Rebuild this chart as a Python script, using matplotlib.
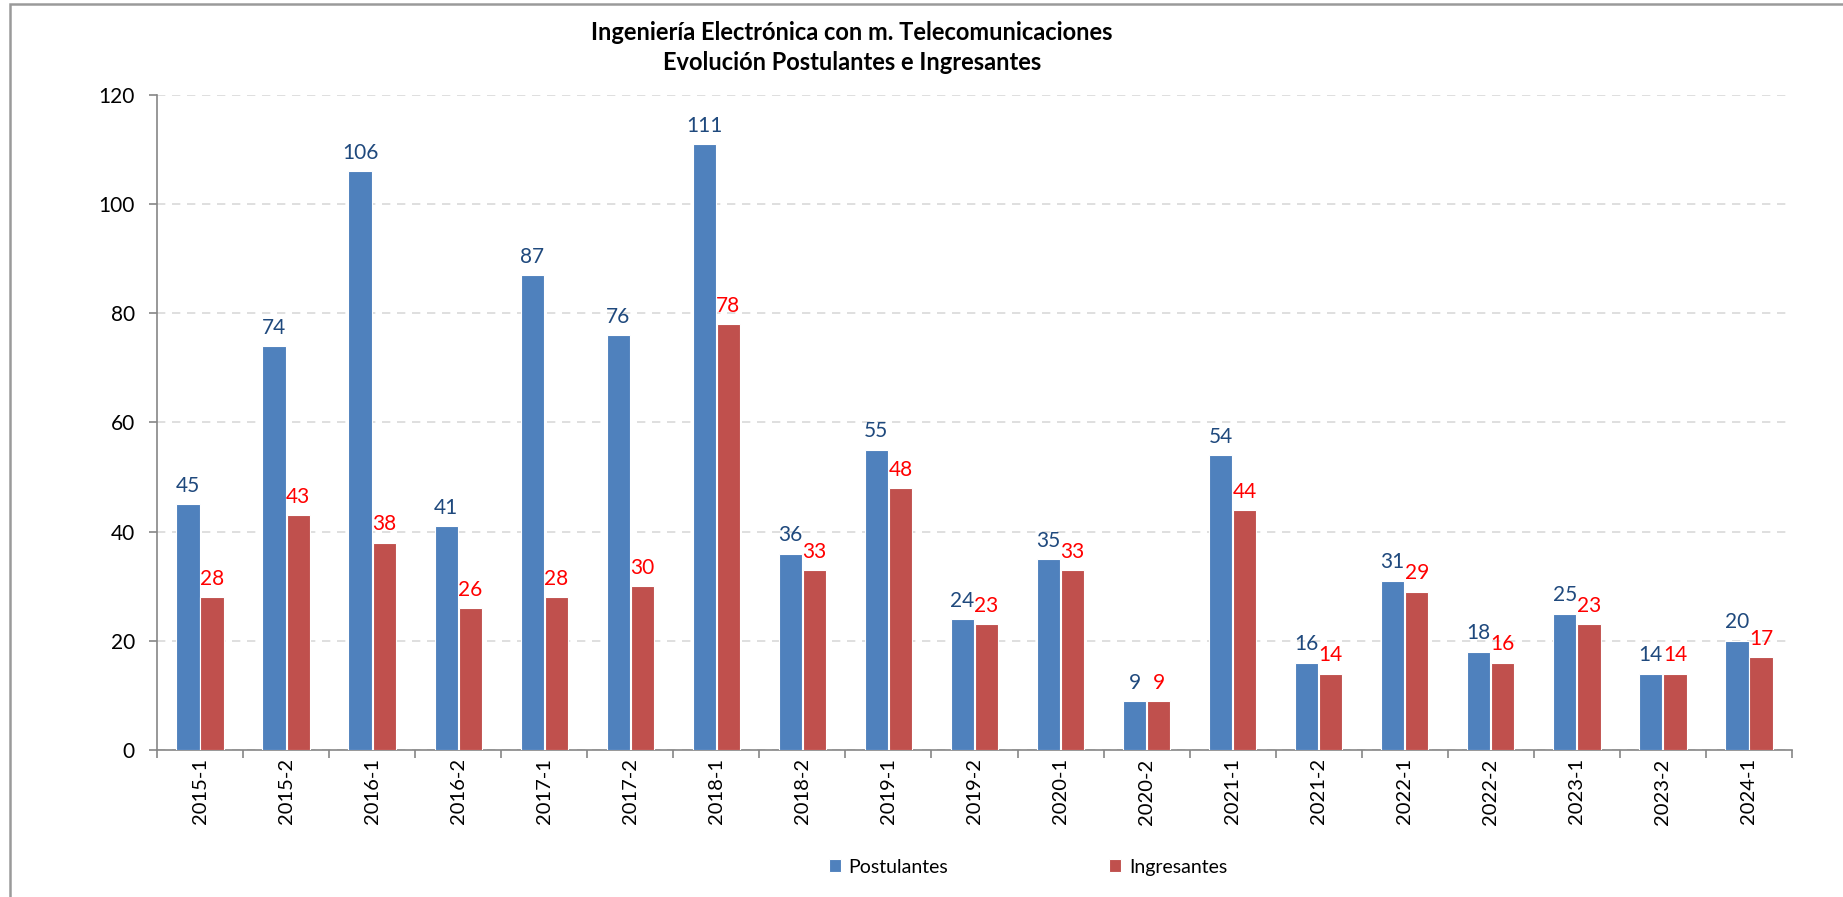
import numpy as np
import matplotlib; matplotlib.use("Agg")
import matplotlib.pyplot as plt
from matplotlib.patches import Rectangle

plt.rcParams["font.family"] = ["Lato", "DejaVu Sans"]

periodos = ["2015-1","2015-2","2016-1","2016-2","2017-1","2017-2","2018-1","2018-2","2019-1","2019-2",
            "2020-1","2020-2","2021-1","2021-2","2022-1","2022-2","2023-1","2023-2","2024-1"]
postulantes = [45,74,106,41,87,76,111,36,55,24,35,9,54,16,31,18,25,14,20]
ingresantes = [28,43,38,26,28,30,78,33,48,23,33,9,44,14,29,16,23,14,17]

C_POST="#4F81BD"; C_ING="#C0504D"; C_AX="#868686"
W,H=1843,897
fig=plt.figure(figsize=(W/100,H/100),dpi=100)
ax=fig.add_axes([157/W,1-750/H,(1792-157)/W,(750-95)/H])

# chart-area frame (only top and left edges show in the image)
fig.patches.append(Rectangle((10/W,-0.2),1.2,1.2-3.5/H,transform=fig.transFigure,
                             fill=False,edgecolor="#9a9a9a",lw=1.8,zorder=0))

xs=np.arange(len(periodos)); bw=0.27; off=0.14
b1=ax.bar(xs-off,postulantes,bw,color=C_POST,edgecolor="white",lw=0.8,label="Postulantes",zorder=3)
b2=ax.bar(xs+off,ingresantes,bw,color=C_ING,edgecolor="white",lw=0.8,label="Ingresantes",zorder=3)
for x,v in zip(xs,postulantes):
    ax.annotate(str(v),(x-off,v),xytext=(0,6),textcoords="offset points",ha="center",va="bottom",
                fontsize=15,color="#1F497D")
for x,v in zip(xs,ingresantes):
    ax.annotate(str(v),(x+off,v),xytext=(0,6),textcoords="offset points",ha="center",va="bottom",
                fontsize=15,color="#FF0000")

ax.set_xlim(-0.5,len(periodos)-0.5); ax.set_ylim(0,120)
ax.set_yticks(np.arange(0,121,20))
ax.set_xticks(xs); ax.set_xticklabels(periodos,rotation=90,fontsize=14.5)
ax.set_xticks(np.arange(-0.5,len(periodos),1),minor=True)
ax.tick_params(axis="x",which="major",length=0,pad=6)
ax.tick_params(axis="x",which="minor",length=6,color=C_AX,width=1.2)
ax.tick_params(axis="y",length=6,color=C_AX,width=1.2,labelsize=15,pad=10)
ax.yaxis.grid(True,ls=(0,(5,4)),color="#D9D9D9",lw=1.2,zorder=0)
ax.set_axisbelow(True)
for s in ("top","right"): ax.spines[s].set_visible(False)
for s in ("left","bottom"): ax.spines[s].set_color(C_AX); ax.spines[s].set_linewidth(1.2)

fig.text(852/W,1-32/H,"Ingeniería Electrónica con m. Telecomunicaciones",ha="center",va="center",
         fontsize=17,weight="bold")
fig.text(852/W,1-62/H,"Evolución Postulantes e Ingresantes",ha="center",va="center",
         fontsize=17,weight="bold")

fig.legend(handles=[b1,b2],loc="center",bbox_to_anchor=(1028/W,1-867/H),ncol=2,frameon=False,
           fontsize=14,handlelength=0.6,handleheight=0.6,handletextpad=0.4,columnspacing=8.3)

fig.savefig("out.png",dpi=100)
